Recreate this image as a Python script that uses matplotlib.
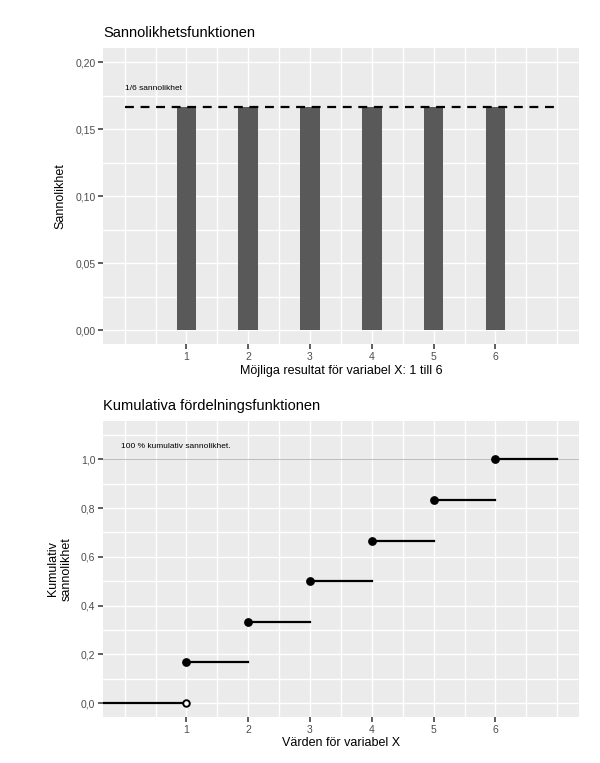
import numpy as np
import matplotlib
matplotlib.use("Agg")
import matplotlib.pyplot as plt

plt.rcParams['font.family'] = ['Liberation Sans', 'DejaVu Sans']

# data
utfall = [1, 2, 3, 4, 5, 6]
sannolikhet = [1/6, 1/6, 1/6, 1/6, 1/6, 1/6]
kumulativ = [1/6, 2/6, 3/6, 4/6, 5/6, 6/6]
x_ticks = [1, 2, 3, 4, 5, 6]
y_ticks_top = [0.0, 0.05, 0.10, 0.15, 0.20]
y_labels_top = ["0,00", "0,05", "0,10", "0,15", "0,20"]
y_ticks_bot = [0.0, 0.2, 0.4, 0.6, 0.8, 1.0]
y_labels_bot = ["0,0", "0,2", "0,4", "0,6", "0,8", "1,0"]

BG = "#EBEBEB"
TXT = "#4D4D4D"


def ggtheme(ax, xlim, ylim, yticks, ylabels, minor_y):
    ax.set_facecolor(BG)
    for s in ax.spines.values():
        s.set_visible(False)
    ax.set_xlim(*xlim)
    ax.set_ylim(*ylim)
    ax.set_xticks(x_ticks)
    ax.set_xticklabels([str(t) for t in x_ticks])
    ax.set_yticks(yticks)
    ax.set_yticklabels(ylabels)
    # grid lines like ggplot
    for gx in np.arange(0, 7.01, 0.5):
        ax.axvline(gx, color="white", lw=1.0, zorder=0.5)
    for gy in list(yticks) + list(minor_y):
        ax.axhline(gy, color="white", lw=1.0, zorder=0.5)
    ax.tick_params(axis="both", length=3.5, width=1.1, color="#333333",
                   labelsize=7.5, labelcolor=TXT, pad=2)


fig = plt.figure(figsize=(6, 7.63), dpi=100)

# Sannolikhetsfunktionen
ax1 = fig.add_axes([0.1717, 0.549, 0.793, 0.388])
ggtheme(ax1, (-0.35, 7.35), (-0.0105, 0.2105), y_ticks_top, y_labels_top,
        [0.025, 0.075, 0.125, 0.175])
ax1.bar(utfall, sannolikhet, width=0.32, color="#595959", zorder=2)
ax1.plot([0, 7], [1/6, 1/6], color="black", lw=1.6, ls=(0, (4, 3)), zorder=3)
ax1.text(0, 0.18, "1/6 sannolikhet", fontsize=6, ha="left", va="center")
ax1.set_xlabel("Möjliga resultat för variabel X: 1 till 6", fontsize=9, labelpad=2)
ax1.set_ylabel("Sannolikhet", fontsize=9, labelpad=6)
ax1.set_title("Sannolikhetsfunktionen", fontsize=10.5, loc="left", pad=8)

# Kumulativa fördelningsfunktionen
ax2 = fig.add_axes([0.1717, 0.0603, 0.793, 0.388])
ggtheme(ax2, (-0.35, 7.35), (-0.057, 1.157), y_ticks_bot, y_labels_bot,
        [0.1, 0.3, 0.5, 0.7, 0.9, 1.1])
ax2.axhline(1.0, color="#BEBEBE", lw=0.8, zorder=1)
ax2.plot([-1, 1], [0, 0], color="black", lw=1.6, zorder=2)
for x, y in zip(utfall, kumulativ):
    ax2.plot([x, x + 1], [y, y], color="black", lw=1.6, zorder=2)
ax2.scatter(utfall, kumulativ, s=28, color="black", zorder=3)
ax2.scatter([1], [0], s=22, facecolor="white", edgecolor="black", lw=1.4, zorder=3)
ax2.text(-0.06, 1.053, "100 % kumulativ sannolikhet.", fontsize=6,
         ha="left", va="center")
ax2.set_xlabel("Värden för variabel X", fontsize=9, labelpad=2)
ax2.set_ylabel("Kumulativ\nsannolikhet", fontsize=9, labelpad=6,
               multialignment="center")
ax2.set_title("Kumulativa fördelningsfunktionen", fontsize=10.5, loc="left", pad=8)

fig.savefig("out.png", dpi=100, facecolor="white")
